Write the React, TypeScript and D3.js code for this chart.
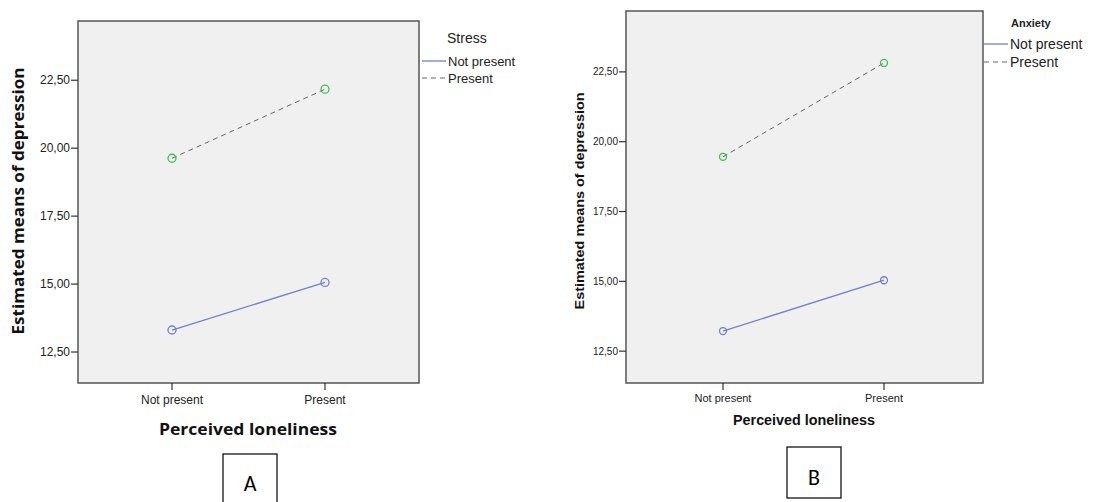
import React from "react";
import * as d3 from "d3";

const categories = ["Not present", "Present"];
const yTicks = [12.5, 15, 17.5, 20, 22.5];
const stressNotPresent = [13.31, 15.06];
const stressPresent = [19.63, 22.17];
const anxietyNotPresent = [13.22, 15.04];
const anxietyPresent = [19.46, 22.82];
const yDomain = [11.36, 24.68];

const BLUE = "#6f80cc";
const GREEN = "#3cc04a";
const DASH = "#666";

type PanelCfg = {
  left: number; top: number; right: number; bottom: number;
  xCenters: [number, number];
  notPresent: number[]; present: number[];
  legendTitle: string;
  tickFont: number; xLabelFont: number; xLabelY: number;
  xTitleY: number; xTitleX: number; xTitleFont: number; xTitleFamily: string; xTitleLen: number;
  yTitleX: number; yTitleY: number; yTitleFont: number; yTitleFamily: string; yTitleLen: number;
  legX: number; legTitleX: number; legTitleY: number; legTitleFont: number; legTitleBold: boolean;
  legY1: number; legY2: number; legFont: number;
  r: number;
  boxX: number; boxY: number; boxW: number; boxH: number; letter: string; letterY: number;
};

const fmt = (v: number) => v.toFixed(2).replace(".", ",");

function Panel({ c }: { c: PanelCfg }) {
  const y = d3.scaleLinear().domain(yDomain).range([c.bottom, c.top]);
  const x = d3.scalePoint<string>().domain(categories).range(c.xCenters);
  const line = d3
    .line<number>()
    .x((_, i) => x(categories[i]) as number)
    .y((d) => y(d));
  const font = "'Liberation Sans', Arial, sans-serif";
  return (
    <g>
      <rect x={c.left} y={c.top} width={c.right - c.left} height={c.bottom - c.top} fill="#f0f0f0" stroke="#555" strokeWidth={1.5} />
      {yTicks.map((t) => (
        <g key={t}>
          <line x1={c.left - 7} x2={c.left} y1={y(t)} y2={y(t)} stroke="#333" strokeWidth={1.2} />
          <text x={c.left - 8} y={y(t)} dy="0.35em" textAnchor="end" fontSize={c.tickFont} fontFamily={font} fill="#222">{fmt(t)}</text>
        </g>
      ))}
      {categories.map((cat) => (
        <g key={cat}>
          <line x1={x(cat)} x2={x(cat)} y1={c.bottom} y2={c.bottom + 7} stroke="#333" strokeWidth={1.2} />
          <text x={x(cat)} y={c.xLabelY} dy="0.35em" textAnchor="middle" fontSize={c.xLabelFont} fontFamily={font} fill="#222">{cat}</text>
        </g>
      ))}
      <text x={c.xTitleX} y={c.xTitleY} dy="0.35em" textAnchor="middle" fontSize={c.xTitleFont} fontWeight="bold" fontFamily={c.xTitleFamily} textLength={c.xTitleLen} lengthAdjust="spacingAndGlyphs" fill="#111">Perceived loneliness</text>
      <text transform={`translate(${c.yTitleX},${c.yTitleY}) rotate(-90)`} dy="0.35em" textAnchor="middle" fontSize={c.yTitleFont} fontWeight="bold" fontFamily={c.yTitleFamily} textLength={c.yTitleLen} lengthAdjust="spacingAndGlyphs" fill="#111">Estimated means of depression</text>
      <path d={line(c.present) || ""} fill="none" stroke={DASH} strokeWidth={1} strokeDasharray="5,4" />
      <path d={line(c.notPresent) || ""} fill="none" stroke={BLUE} strokeWidth={1.3} />
      {c.present.map((v, i) => (
        <circle key={"p" + i} cx={x(categories[i])} cy={y(v)} r={c.r} fill="none" stroke={GREEN} strokeWidth={1.3} />
      ))}
      {c.notPresent.map((v, i) => (
        <circle key={"n" + i} cx={x(categories[i])} cy={y(v)} r={c.r} fill="none" stroke={BLUE} strokeWidth={1.3} />
      ))}
      <text x={c.legTitleX} y={c.legTitleY} dy="0.35em" fontSize={c.legTitleFont} fontWeight={c.legTitleBold ? "bold" : "normal"} fontFamily={font} fill="#222">{c.legendTitle}</text>
      <line x1={c.legX} x2={c.legX + 24} y1={c.legY1} y2={c.legY1} stroke={BLUE} strokeWidth={1.3} />
      <text x={c.legX + 26} y={c.legY1} dy="0.35em" fontSize={c.legFont} fontFamily={font} fill="#222">Not present</text>
      <line x1={c.legX} x2={c.legX + 24} y1={c.legY2} y2={c.legY2} stroke={DASH} strokeWidth={1} strokeDasharray="5,4" />
      <text x={c.legX + 26} y={c.legY2} dy="0.35em" fontSize={c.legFont} fontFamily={font} fill="#222">Present</text>
      <rect x={c.boxX} y={c.boxY} width={c.boxW} height={c.boxH} fill="#fff" stroke="#000" strokeWidth={1.2} />
      <text x={c.boxX + c.boxW / 2} y={c.letterY} dy="0.35em" textAnchor="middle" fontSize={22} fontFamily="Carlito, 'Open Sans', sans-serif" fill="#000">{c.letter}</text>
    </g>
  );
}

const panelA: PanelCfg = {
  left: 78, top: 21, right: 419, bottom: 383,
  xCenters: [172, 325],
  notPresent: stressNotPresent, present: stressPresent,
  legendTitle: "Stress",
  tickFont: 12, xLabelFont: 12, xLabelY: 400,
  xTitleY: 429, xTitleX: 248, xTitleFont: 16, xTitleFamily: "'Open Sans', sans-serif", xTitleLen: 178,
  yTitleX: 18, yTitleY: 201, yTitleFont: 16, yTitleFamily: "'Open Sans', sans-serif", yTitleLen: 267,
  legX: 422, legTitleX: 447, legTitleY: 38, legTitleFont: 14, legTitleBold: false,
  legY1: 61, legY2: 78, legFont: 13,
  r: 4,
  boxX: 223, boxY: 454, boxW: 54, boxH: 60, letter: "A", letterY: 483,
};

const panelB: PanelCfg = {
  left: 626, top: 11, right: 983, bottom: 383,
  xCenters: [723, 884],
  notPresent: anxietyNotPresent, present: anxietyPresent,
  legendTitle: "Anxiety",
  tickFont: 10, xLabelFont: 11, xLabelY: 398,
  xTitleY: 420, xTitleX: 804, xTitleFont: 14, xTitleFamily: "'Liberation Sans', Arial, sans-serif", xTitleLen: 142,
  yTitleX: 579, yTitleY: 201, yTitleFont: 13, yTitleFamily: "'Liberation Sans', Arial, sans-serif", yTitleLen: 217,
  legX: 984, legTitleX: 1011, legTitleY: 23, legTitleFont: 11, legTitleBold: true,
  legY1: 44, legY2: 62, legFont: 14,
  r: 3.5,
  boxX: 787, boxY: 447, boxW: 54, boxH: 51, letter: "B", letterY: 477,
};

export default function App() {
  return (
    <svg width={1116} height={502} style={{ position: "absolute", left: 0, top: 0, background: "#fff" }}>
      <Panel c={panelA} />
      <Panel c={panelB} />
    </svg>
  );
}
